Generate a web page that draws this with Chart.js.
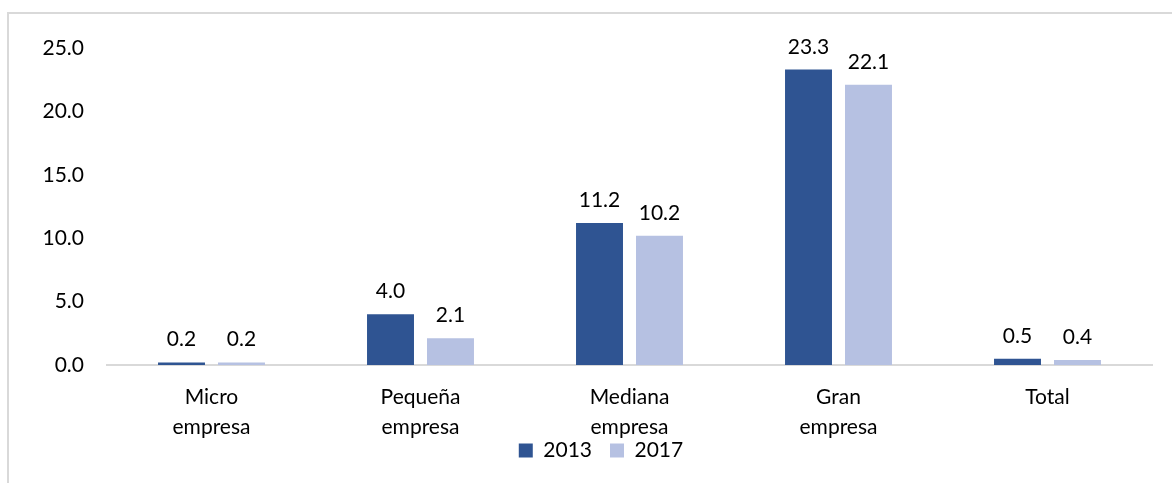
<!DOCTYPE html>
<html>
<head>
<meta charset="utf-8">
<script src="https://cdn.jsdelivr.net/npm/chart.js@4"></script>
<style>
  body { margin: 0; background: #fff; }
  #frame { position: absolute; left: 7px; top: 12px; width: 1200px; height: 500px;
           border-left: 2px solid #d9d9d9; border-top: 2px solid #d9d9d9; }
  #wrap { position: absolute; left: 0; top: 0; width: 1172px; height: 483px; }
</style>
</head>
<body>
<div id="frame"></div>
<div id="wrap"><canvas id="chart" width="1172" height="483"></canvas></div>
<script>
const categories = [['Micro', 'empresa'], ['Pequeña', 'empresa'], ['Mediana', 'empresa'], ['Gran', 'empresa'], 'Total']
const values2013 = [0.2, 4.0, 11.2, 23.3, 0.5]
const values2017 = [0.2, 2.1, 10.2, 22.1, 0.4]
const yTicks = [0, 5, 10, 15, 20, 25]

const FONT = 'Lato'

// value labels above each bar
const barLabels = {
  id: 'barLabels',
  afterDatasetsDraw(chart) {
    const ctx = chart.ctx
    ctx.save()
    ctx.font = '21px ' + FONT
    ctx.fillStyle = '#000'
    ctx.textAlign = 'center'
    ctx.textBaseline = 'alphabetic'
    chart.data.datasets.forEach((ds, i) => {
      chart.getDatasetMeta(i).data.forEach((bar, j) => {
        ctx.fillText(ds.data[j].toFixed(1), bar.x, bar.y - 16)
      })
    })
    ctx.restore()
  },
}

// tick labels are allowed to spill out of the scale box
const noLabelClip = scale => { scale._computeLabelArea = () => undefined }

window.addEventListener('load', () => {
  const ctx = document.getElementById('chart').getContext('2d')
  new Chart(ctx, {
    type: 'bar',
    data: {
      labels: categories,
      datasets: [
        { label: '2013', data: values2013, backgroundColor: '#2f5492', categoryPercentage: 0.574, barPercentage: 0.783 },
        { label: '2017', data: values2017, backgroundColor: '#b6c1e2', categoryPercentage: 0.574, barPercentage: 0.783 },
      ],
    },
    plugins: [barLabels],
    options: {
      responsive: false,
      animation: false,
      devicePixelRatio: 1,
      layout: { padding: { top: 48, right: 20, bottom: 12, left: 50 } },
      plugins: {
        tooltip: { enabled: false },
        legend: {
          position: 'bottom',
          labels: {
            font: { family: FONT, size: 21 },
            color: '#000',
            boxWidth: 14,
            boxHeight: 14,
            padding: 18,
          },
        },
      },
      scales: {
        x: {
          grid: { display: false, drawTicks: false },
          border: { display: true, color: '#d9d9d9', width: 2 },
          ticks: { font: { family: FONT, size: 21, lineHeight: 1.43 }, color: '#000', padding: 17, maxRotation: 0 },
          afterFit(scale) { scale.height = 57; noLabelClip(scale) },
        },
        y: {
          min: 0,
          max: 25,
          afterBuildTicks(scale) { scale.ticks = yTicks.map(v => ({ value: v })) },
          grid: { display: false, drawTicks: false },
          border: { display: false },
          ticks: {
            font: { family: FONT, size: 21 },
            color: '#000',
            padding: 23,
            callback: v => v.toFixed(1),
          },
          afterFit(scale) { scale.width = 57; noLabelClip(scale) },
        },
      },
    },
  })
})
</script>
</body>
</html>
